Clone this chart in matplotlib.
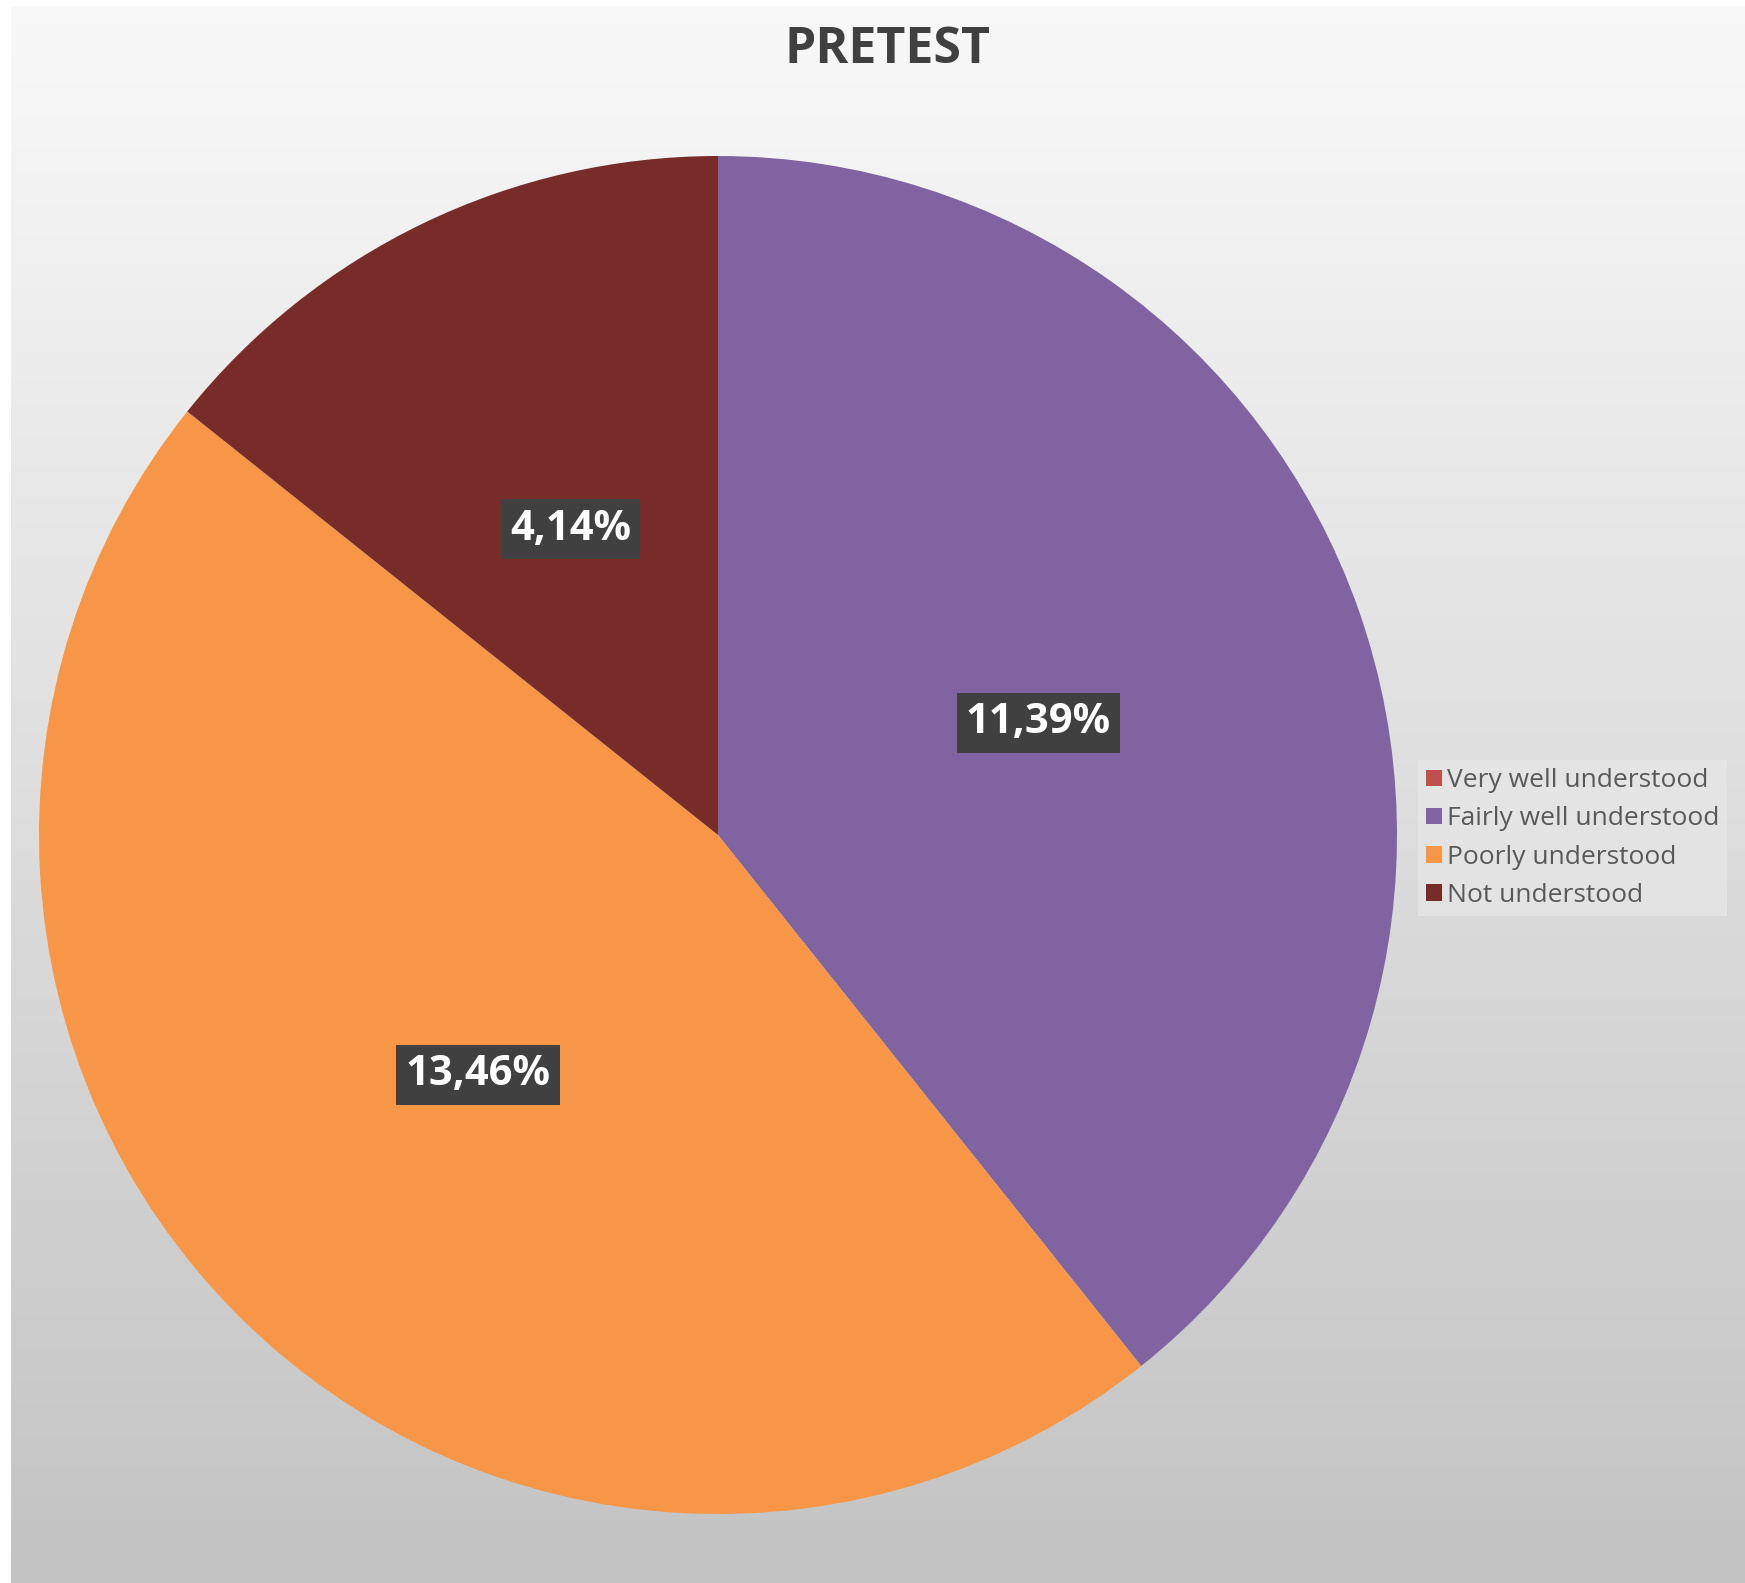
"""
Pretest pie chart with gradient background.
"""
import numpy as np
import matplotlib.pyplot as plt

categories = ['Very well understood', 'Fairly well understood',
              'Poorly understood', 'Not understood']
values = [0.0, 11.39, 13.46, 4.14]
colors = ['#C0504D', '#8064A2', '#F79646', '#772C2A']
title = 'PRETEST'

plt.rcParams['font.family'] = ['Open Sans', 'DejaVu Sans']

W, H = 1745, 1583
fig = plt.figure(figsize=(W / 100, H / 100), dpi=100)
fig.patch.set_facecolor('white')

# background gradient (chart area), white border at top and left
bg = fig.add_axes([11 / W, 0, 1 - 11 / W, 1 - 6 / H], zorder=0)
grad = np.linspace(0.975, 0.765, 256).reshape(-1, 1)
bg.imshow(np.dstack([grad, grad, grad]), aspect='auto', extent=[0, 1, 0, 1])
bg.axis('off')

# pie
cx, cy, r = 718, 835, 679
ax = fig.add_axes([(cx - r) / W, (H - cy - r) / H, 2 * r / W, 2 * r / H], zorder=1)
total = sum(values)


def fmt(p):
    v = p * total / 100
    if v < 0.005:
        return ''
    return '{:.2f}%'.format(v).replace('.', ',')


wedges, _, autotexts = ax.pie(values, colors=colors, startangle=90,
                              counterclock=False, radius=1,
                              autopct=fmt, pctdistance=0.5,
                              wedgeprops=dict(linewidth=0))
for t in autotexts:
    t.set_color('white')
    t.set_fontsize(30)
    t.set_fontweight('bold')
    t.set_bbox(dict(facecolor='#404040', edgecolor='none',
                    boxstyle='square,pad=0.22'))
ax.set_xlim(-1, 1)
ax.set_ylim(-1, 1)
ax.set_aspect('equal')

fig.text(887 / W, 1 - 50 / H, title, ha='center', va='center',
         fontsize=36, fontweight='bold', color='#404040')

leg = fig.legend(wedges, categories, loc='center left',
                 bbox_to_anchor=(1418 / W, 1 - 838 / H),
                 fontsize=19, frameon=True, fancybox=False,
                 handlelength=0.6, handleheight=0.6, handletextpad=0.2,
                 labelspacing=0.5, borderpad=0.3, borderaxespad=0)
leg.get_frame().set_facecolor('#E6E6E6')
leg.get_frame().set_edgecolor('none')
for t in leg.get_texts():
    t.set_color('#595959')

plt.savefig('out.png', dpi=100)
